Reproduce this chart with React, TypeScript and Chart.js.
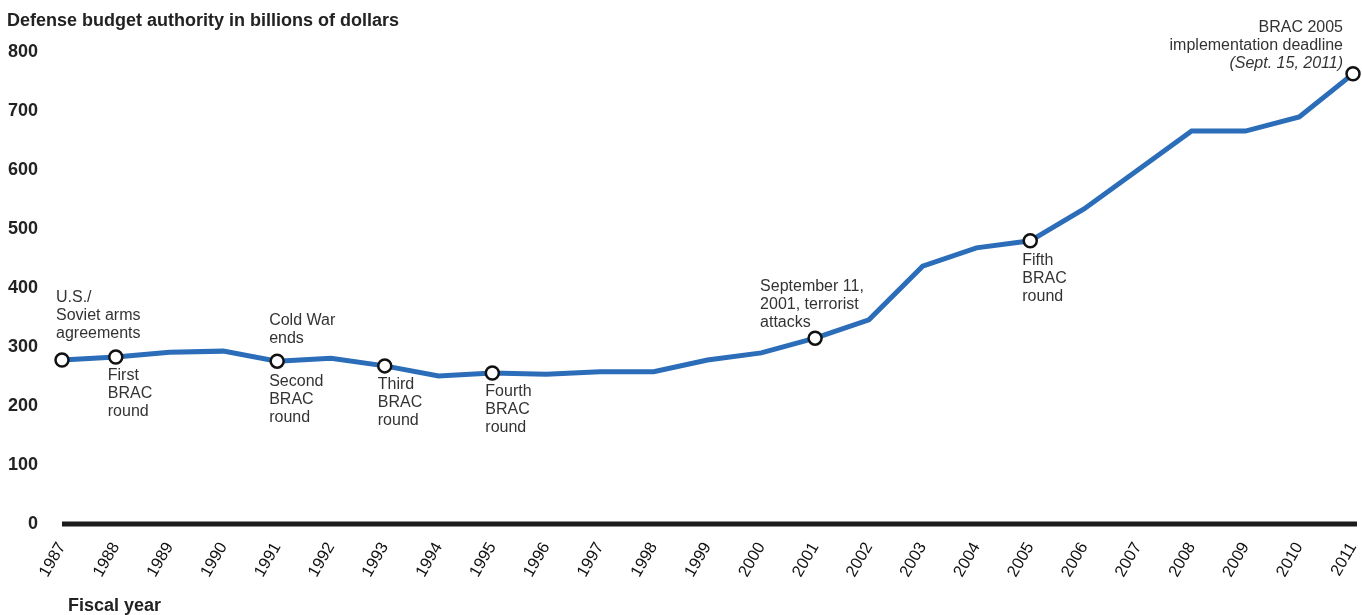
import React, { useEffect, useRef } from "react";
import { Chart, registerables } from "chart.js";

Chart.register(...registerables);

const FONT = "'Liberation Sans', Arial, Helvetica, sans-serif";

// ---- Data ----
const years = [
  "1987", "1988", "1989", "1990", "1991", "1992", "1993", "1994", "1995", "1996",
  "1997", "1998", "1999", "2000", "2001", "2002", "2003", "2004", "2005", "2006",
  "2007", "2008", "2009", "2010", "2011",
];
const budget = [
  278, 283, 291, 293, 276, 281, 268, 251, 256, 254,
  258, 258, 278, 290, 315, 346, 437, 468, 480, 534,
  600, 666, 666, 690, 763,
];
const yTicks = [0, 100, 200, 300, 400, 500, 600, 700, 800];
const markerYears = ["1987", "1988", "1991", "1993", "1995", "2001", "2005", "2011"];

const eventYears = ["1987", "1988", "1991", "1991", "1993", "1995", "2001", "2005", "2011"];
const eventTexts = [
  ["U.S./", "Soviet arms", "agreements"],
  ["First", "BRAC", "round"],
  ["Cold War", "ends"],
  ["Second", "BRAC", "round"],
  ["Third", "BRAC", "round"],
  ["Fourth", "BRAC", "round"],
  ["September 11,", "2001, terrorist", "attacks"],
  ["Fifth", "BRAC", "round"],
  ["BRAC 2005", "implementation deadline", "(Sept. 15, 2011)"],
];

const titleText = "Defense budget authority in billions of dollars";
const xTitleText = "Fiscal year";

// ---- Layout of annotation text relative to the marker (pixels) ----
const eventLayout = [
  { dx: -6, dy: -62, align: "left" },
  { dx: -8, dy: 19, align: "left" },
  { dx: -8, dy: -41, align: "left" },
  { dx: -8, dy: 20, align: "left" },
  { dx: -7, dy: 19, align: "left" },
  { dx: -7, dy: 19, align: "left" },
  { dx: -55, dy: -52, align: "left" },
  { dx: -8, dy: 20, align: "left" },
  { dx: -10, dy: -46, align: "right", italicLast: true },
];

const annotationPlugin = {
  id: "annotations",
  beforeDatasetsDraw(chart: any) {
    const { ctx, chartArea, scales } = chart;
    const y0 = scales.y.getPixelForValue(0);
    ctx.save();
    ctx.strokeStyle = "#1c1c1c";
    ctx.lineWidth = 5;
    ctx.beginPath();
    ctx.moveTo(chartArea.left, y0);
    ctx.lineTo(chartArea.right + 4, y0);
    ctx.stroke();
    ctx.restore();
  },
  afterDraw(chart: any) {
    const { ctx, scales } = chart;
    ctx.save();
    ctx.fillStyle = "#222";
    ctx.textBaseline = "middle";
    ctx.textAlign = "left";
    ctx.font = `bold 18px ${FONT}`;
    ctx.fillText(titleText, 7, 21);
    ctx.fillText(xTitleText, 68, 606);

    ctx.fillStyle = "#333";
    eventYears.forEach((yr, i) => {
      const idx = years.indexOf(yr);
      const px = scales.x.getPixelForValue(idx);
      const py = scales.y.getPixelForValue(budget[idx]);
      const lay: any = eventLayout[i];
      ctx.textAlign = lay.align;
      eventTexts[i].forEach((line, j) => {
        const italic = lay.italicLast && j === eventTexts[i].length - 1;
        ctx.font = `${italic ? "italic " : ""}16px ${FONT}`;
        ctx.fillText(line, px + lay.dx, py + lay.dy + j * 18);
      });
    });
    ctx.restore();
  },
};

export default function App() {
  const canvasRef = useRef<HTMLCanvasElement | null>(null);

  useEffect(() => {
    if (!canvasRef.current) return;
    const chart = new Chart(canvasRef.current, {
      type: "line",
      data: {
        labels: years,
        datasets: [
          {
            data: budget,
            borderColor: "#2b6db8",
            borderWidth: 5,
            tension: 0,
            fill: false,
            clip: false as any,
            pointRadius: (c: any) => (markerYears.includes(years[c.dataIndex]) ? 6.5 : 0),
            pointHoverRadius: (c: any) => (markerYears.includes(years[c.dataIndex]) ? 6.5 : 0),
            pointBackgroundColor: "#ffffff",
            pointBorderColor: "#111111",
            pointBorderWidth: 2.5,
          },
        ],
      },
      options: {
        responsive: false,
        animation: false,
        devicePixelRatio: 1,
        layout: { padding: { left: 8, right: 3, top: 52, bottom: 0 } },
        plugins: {
          legend: { display: false },
          tooltip: { enabled: false },
          title: { display: false },
        },
        scales: {
          x: {
            type: "category",
            offset: false,
            grid: { display: false, drawTicks: false },
            border: { display: false },
            ticks: {
              autoSkip: false,
              maxRotation: 60,
              minRotation: 60,
              padding: 15,
              color: "#111",
              font: { size: 16.5, family: FONT },
            },
            afterFit: (scale: any) => {
              scale.height = 91;
              scale.paddingRight = 0;
              scale.paddingLeft = 0;
            },
          },
          y: {
            min: 0,
            max: 800,
            afterBuildTicks: (scale: any) => {
              scale.ticks = yTicks.map((v) => ({ value: v }));
            },
            grid: { display: false, drawTicks: false },
            border: { display: false },
            ticks: {
              padding: 24,
              color: "#222",
              font: { size: 18, weight: "bold", family: FONT },
            },
            afterFit: (scale: any) => {
              scale.width = 54;
            },
          },
        },
      },
      plugins: [annotationPlugin],
    });
    return () => chart.destroy();
  }, []);

  return (
    <div style={{ position: "fixed", left: 0, top: 0, width: 1362, height: 615, background: "#fff" }}>
      <canvas ref={canvasRef} width={1362} height={615} style={{ width: 1362, height: 615, display: "block" }} />
    </div>
  );
}
